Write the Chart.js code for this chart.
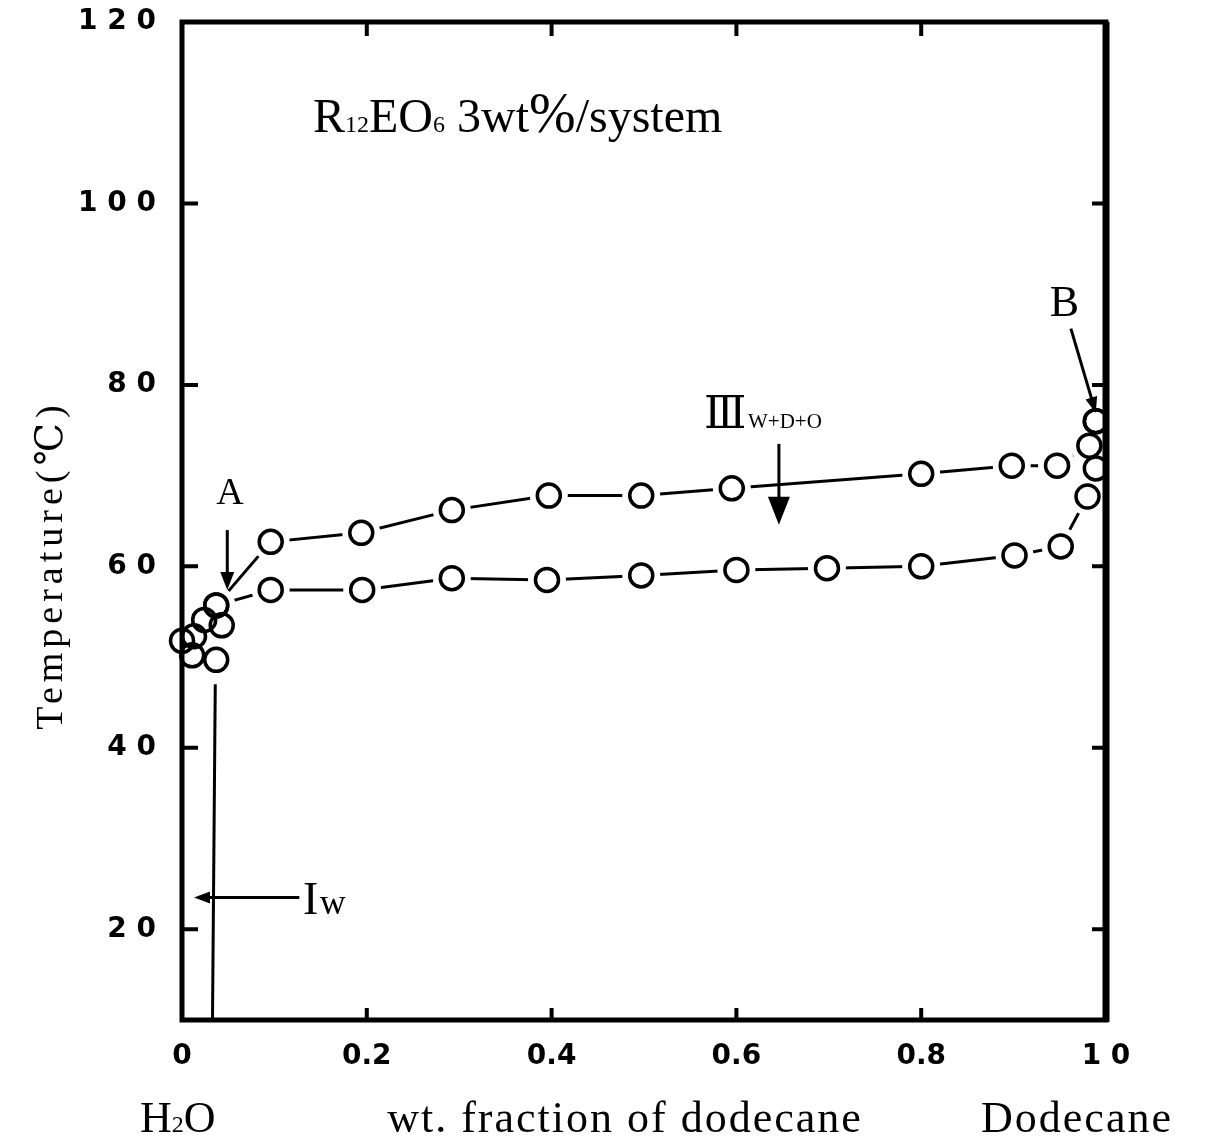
<!DOCTYPE html>
<html>
<head>
<meta charset="utf-8">
<script src="https://cdn.jsdelivr.net/npm/chart.js@4.4.1/dist/chart.umd.min.js"></script>
<style>
  html, body { margin: 0; padding: 0; background: #fff; }
  #wrap { width: 1207px; height: 1144px; }
</style>
</head>
<body>
<div id="wrap"><canvas id="myChart"></canvas></div>
<script>
// upper boundary of the three phase region, from A to B
const upperX = [0.037, 0.096, 0.194, 0.292, 0.397, 0.497, 0.595, 0.800, 0.898, 0.947, 0.982, 0.989]
const upperT = [55.7, 62.7, 63.7, 66.2, 67.8, 67.8, 68.6, 70.2, 71.1, 71.1, 73.3, 76.0]
// lower boundary, from A to B
const lowerX = [0.037, 0.096, 0.195, 0.292, 0.395, 0.497, 0.600, 0.698, 0.800, 0.901, 0.951, 0.980, 0.989, 0.989]
const lowerT = [55.7, 57.4, 57.4, 58.7, 58.5, 59.0, 59.6, 59.8, 60.0, 61.2, 62.2, 67.7, 70.8, 76.0]
// points near the water corner
const clusterX = [0.0, 0.013, 0.024, 0.043, 0.011, 0.037]
const clusterT = [51.8, 52.3, 54.1, 53.5, 50.2, 49.7]
// Iw boundary
const iwX = [0.036, 0.033]
const iwT = [47, 10]

const xTicks = [0, 0.2, 0.4, 0.6, 0.8, 1.0]
const xTickLabels = ['0', '0.2', '0.4', '0.6', '0.8', '1 0']
const yTicks = [20, 40, 60, 80, 100, 120]
const yTickLabels = ['2 0', '4 0', '6 0', '8 0', '1 0 0', '1 2 0']

const toPts = (xs, ts) => xs.map((v, i) => ({ x: v, y: ts[i] }))
const upperPts = toPts(upperX, upperT)
const lowerPts = toPts(lowerX, lowerT)
const clusterPts = toPts(clusterX, clusterT)
const iwPts = toPts(iwX, iwT)

const serif = '"Liberation Serif", "DejaVu Serif", serif'

// annotation placement, in data units
const notes = {
  A: { x: 0.052, y: 68.0, arrow: [0.049, 64.0, 0.049, 57.4] },
  B: { x: 0.955, y: 88.9, arrow: [0.962, 86.2, 0.989, 76.9] },
  III: { x: 0.565, y: 76.8, arrow: [0.646, 73.5, 0.646, 64.6] },
  Iw: { x: 0.131, y: 23.5, arrow: [0.127, 23.5, 0.013, 23.5] },
}

function arrow(ctx, x1, y1, x2, y2, len, w) {
  const ang = Math.atan2(y2 - y1, x2 - x1)
  ctx.beginPath()
  ctx.moveTo(x1, y1)
  ctx.lineTo(x2 - Math.cos(ang) * len * 0.6, y2 - Math.sin(ang) * len * 0.6)
  ctx.stroke()
  ctx.beginPath()
  ctx.moveTo(x2, y2)
  ctx.lineTo(x2 - Math.cos(ang) * len - Math.sin(ang) * w / 2, y2 - Math.sin(ang) * len + Math.cos(ang) * w / 2)
  ctx.lineTo(x2 - Math.cos(ang) * len + Math.sin(ang) * w / 2, y2 - Math.sin(ang) * len - Math.cos(ang) * w / 2)
  ctx.closePath()
  ctx.fill()
}

// draws a run of [text, size] pieces on one baseline
function runText(ctx, pieces, x, y) {
  ctx.textAlign = 'left'
  ctx.textBaseline = 'alphabetic'
  pieces.forEach(([s, size]) => {
    ctx.font = size + 'px ' + serif
    ctx.fillText(s, x, y)
    x += ctx.measureText(s).width
  })
}

const frameAndNotes = {
  id: 'frameAndNotes',
  afterDraw(chart) {
    const { ctx, chartArea: a, scales: { x, y } } = chart
    const px = (v) => x.getPixelForValue(v)
    const py = (v) => y.getPixelForValue(v)
    ctx.save()
    ctx.strokeStyle = '#000'
    ctx.fillStyle = '#000'

    // frame
    ctx.lineWidth = 5
    ctx.strokeRect(a.left, a.top, a.right - a.left, a.bottom - a.top)
    ctx.lineWidth = 7
    ctx.beginPath()
    ctx.moveTo(a.right, a.top)
    ctx.lineTo(a.right, a.bottom + 2)
    ctx.stroke()

    // inward ticks
    ctx.lineWidth = 4
    ctx.beginPath()
    xTicks.slice(1, -1).forEach((v) => {
      ctx.moveTo(px(v), a.bottom); ctx.lineTo(px(v), a.bottom - 12)
      ctx.moveTo(px(v), a.top); ctx.lineTo(px(v), a.top + 14)
    })
    yTicks.slice(0, -1).forEach((v) => {
      ctx.moveTo(a.left, py(v)); ctx.lineTo(a.left + 16, py(v))
      ctx.moveTo(a.right, py(v)); ctx.lineTo(a.right - 14, py(v))
    })
    ctx.stroke()

    // arrows
    ctx.lineWidth = 3
    let n = notes.A.arrow
    arrow(ctx, px(n[0]), py(n[1]), px(n[2]), py(n[3]), 18, 14)
    n = notes.B.arrow
    arrow(ctx, px(n[0]), py(n[1]), px(n[2]), py(n[3]), 16, 12)
    n = notes.III.arrow
    arrow(ctx, px(n[0]), py(n[1]), px(n[2]), py(n[3]), 28, 22)
    n = notes.Iw.arrow
    arrow(ctx, px(n[0]), py(n[1]), px(n[2]), py(n[3]), 16, 12)

    // labels
    ctx.textBaseline = 'middle'
    ctx.textAlign = 'center'
    ctx.font = '38px ' + serif
    ctx.fillText('A', px(notes.A.x), py(notes.A.y))
    ctx.font = '44px ' + serif
    ctx.fillText('B', px(notes.B.x), py(notes.B.y))
    runText(ctx, [['Ⅲ', 44], [' ', 6], ['W+D+O', 21]], px(notes.III.x), py(notes.III.y) + 14)
    runText(ctx, [['I', 46], [' ', 6], ['w', 36]], px(notes.Iw.x), py(notes.Iw.y) + 16)

    // title
    runText(ctx, [['R', 48], ['12', 24], ['EO', 48], ['6', 24], [' 3wt', 48], ['%', 56], ['/system', 48]], 313, 132)

    // bottom labels
    runText(ctx, [['H', 44], ['2', 24], ['O', 44]], 140, 1132)
    ctx.textBaseline = 'alphabetic'
    ctx.textAlign = 'center'
    ctx.font = '44px ' + serif
    ctx.letterSpacing = '2px'
    ctx.fillText('wt. fraction of dodecane', 625, 1132)
    ctx.fillText('Dodecane', 1077, 1132)

    // y axis title
    ctx.save()
    ctx.translate(52, 565)
    ctx.rotate(-Math.PI / 2)
    ctx.textBaseline = 'middle'
    ctx.font = '38px ' + serif
    ctx.letterSpacing = '5px'
    ctx.fillText('Temperature(℃)', 0, 0)
    ctx.restore()
    ctx.letterSpacing = '0px'
    ctx.restore()
  },
}

const lineStyle = {
  showLine: true,
  borderColor: '#000',
  borderWidth: 3,
  pointRadius: 0,
  tension: 0,
  order: 3,
}
const circleStyle = {
  showLine: false,
  pointRadius: 11.5,
  pointBorderWidth: 3.5,
  pointBorderColor: '#000',
  pointBackgroundColor: 'rgba(0,0,0,0)',
  clip: false,
  order: 0,
}

const config = {
  type: 'scatter',
  data: {
    datasets: [
      { label: 'upper line', data: upperPts, ...lineStyle },
      { label: 'lower line', data: lowerPts, ...lineStyle },
      { label: 'Iw line', data: iwPts, ...lineStyle },
      // white halo so the lines stop short of the circles
      {
        label: 'halo',
        data: [...upperPts, ...lowerPts, ...clusterPts],
        showLine: false,
        pointRadius: 19,
        pointBorderWidth: 0,
        pointBackgroundColor: '#fff',
        clip: false,
        order: 2,
      },
      { label: 'upper', data: upperPts, ...circleStyle },
      { label: 'lower', data: lowerPts, ...circleStyle },
      { label: 'cluster', data: clusterPts, ...circleStyle },
    ],
  },
  options: {
    responsive: true,
    maintainAspectRatio: false,
    animation: false,
    events: [],
    layout: { autoPadding: false, padding: { left: 0, right: 101, top: 22, bottom: 0 } },
    plugins: {
      legend: { display: false },
      title: { display: false },
      tooltip: { enabled: false },
    },
    scales: {
      x: {
        type: 'linear',
        min: 0,
        max: 1,
        afterBuildTicks: (scale) => { scale.ticks = xTicks.map((v) => ({ value: v })) },
        afterFit: (scale) => {
          scale.height = 124
          scale.paddingTop = 0
          scale.paddingBottom = 0
        },
        grid: { display: false, drawTicks: false },
        border: { display: false },
        ticks: {
          padding: 20,
          color: '#000',
          font: { family: '"DejaVu Sans"', weight: 'bold', size: 28 },
          callback: (v) => xTickLabels[xTicks.indexOf(v)],
        },
      },
      y: {
        type: 'linear',
        min: 10,
        max: 120,
        afterBuildTicks: (scale) => { scale.ticks = yTicks.map((v) => ({ value: v })) },
        afterFit: (scale) => {
          scale.width = 182
          scale.paddingTop = 0
          scale.paddingBottom = 0
        },
        grid: { display: false, drawTicks: false },
        border: { display: false },
        ticks: {
          padding: 26,
          color: '#000',
          font: { family: '"DejaVu Sans"', weight: 'bold', size: 28 },
          callback: (v) => yTickLabels[yTicks.indexOf(v)],
        },
      },
    },
  },
  plugins: [frameAndNotes],
}

var myChart = new Chart(document.getElementById('myChart'), config)
</script>
</body>
</html>
